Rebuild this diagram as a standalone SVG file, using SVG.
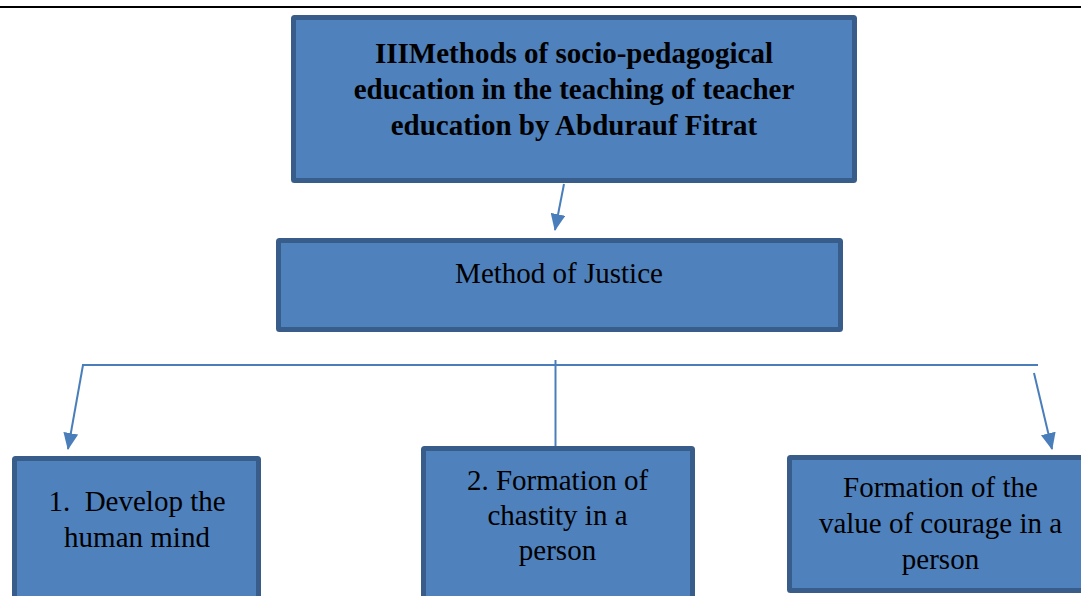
<svg xmlns="http://www.w3.org/2000/svg" width="1081" height="596" viewBox="0 0 1081 596">
  <style>
    .box { fill: #4f81bd; stroke: #385d8a; stroke-width: 5; }
    .t { font-family: "Liberation Serif", "Times New Roman", serif; font-size: 29px; fill: #000; text-anchor: middle; }
    .b { font-weight: bold; }
    .c { stroke: #4a7ebb; stroke-width: 2; fill: none; }
  </style>
  <defs>
    <marker id="arr" viewBox="0 0 17 15" refX="16" refY="7.5" markerWidth="17" markerHeight="15" markerUnits="userSpaceOnUse" orient="auto">
      <path d="M0,0 L17,7.5 L0,15 Z" fill="#4a7ebb"/>
    </marker>
  </defs>
  <rect width="1081" height="596" fill="#ffffff"/>
  <line x1="0" y1="7" x2="1081" y2="7" stroke="#000" stroke-width="2"/>

  <g id="connectors">
    <line class="c" x1="564" y1="184" x2="555" y2="230" marker-end="url(#arr)"/>
    <line class="c" x1="82" y1="365" x2="1038" y2="365"/>
    <line class="c" x1="83" y1="365" x2="68" y2="449" marker-end="url(#arr)"/>
    <line class="c" x1="1034" y1="373" x2="1052" y2="449" marker-end="url(#arr)"/>
    <line class="c" x1="555.5" y1="360" x2="555.5" y2="446"/>
  </g>

  <g id="node-title">
    <rect class="box" x="293.5" y="17.5" width="561" height="163" rx="1"/>
    <text class="t b" x="574" y="63">IIIMethods of socio-pedagogical</text>
    <text class="t b" x="574" y="99">education in the teaching of teacher</text>
    <text class="t b" x="574" y="135">education by Abdurauf Fitrat</text>
  </g>

  <g id="node-justice">
    <rect class="box" x="278.5" y="240.5" width="562" height="89" rx="1"/>
    <text class="t" x="559" y="283">Method of Justice</text>
  </g>

  <g id="node-mind">
    <rect class="box" x="14.5" y="458.5" width="244" height="200" rx="1"/>
    <text class="t" x="137" y="511" xml:space="preserve">1.  Develop the</text>
    <text class="t" x="137" y="547">human mind</text>
  </g>

  <g id="node-chastity">
    <rect class="box" x="423.5" y="448.5" width="269" height="200" rx="1"/>
    <text class="t" x="557.5" y="490">2. Formation of</text>
    <text class="t" x="557.5" y="525">chastity in a</text>
    <text class="t" x="557.5" y="560">person</text>
  </g>

  <g id="node-courage">
    <rect class="box" x="789.5" y="457.5" width="302" height="133" rx="1"/>
    <text class="t" x="940.5" y="497">Formation of the</text>
    <text class="t" x="940.5" y="533">value of courage in a</text>
    <text class="t" x="940.5" y="569">person</text>
  </g>
</svg>
